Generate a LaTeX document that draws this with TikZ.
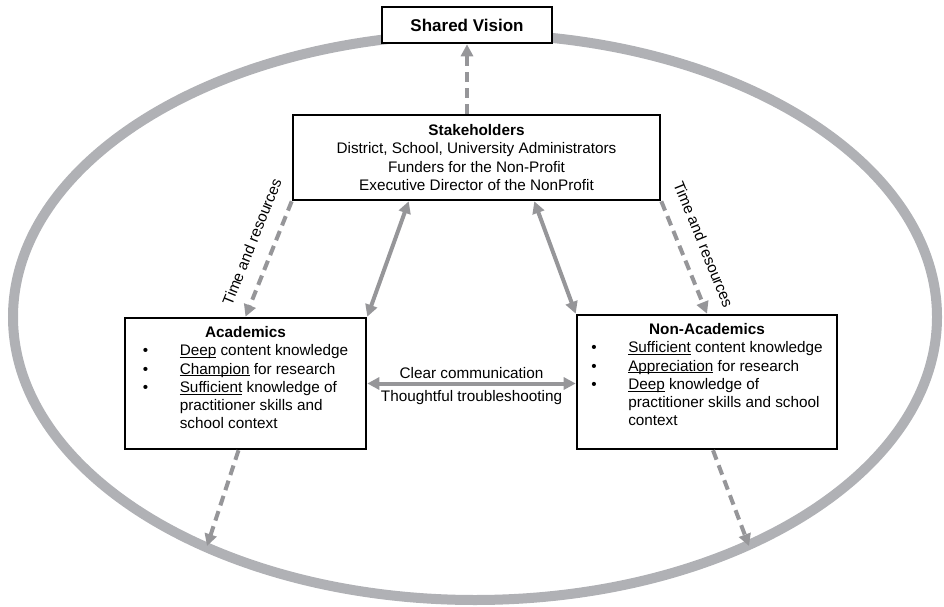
\documentclass[tikz,border=0pt]{standalone}
\usepackage{fontspec}
\setmainfont{Liberation Sans}
\usetikzlibrary{arrows.meta}
\definecolor{ringgray}{RGB}{176,177,181}
\definecolor{linkgray}{RGB}{150,150,153}
\newcommand{\bpt}{\textbullet}
\newcommand{\ulword}[1]{\setbox0\hbox{#1}\rlap{\rule[-2.2pt]{\wd0}{1pt}}\box0\relax}

\begin{document}
\begin{tikzpicture}[x=1pt, y=-1pt, font=\fontsize{15.3}{18.3}\selectfont,
    >={Triangle[length=12pt, width=12pt]},
    box/.style={draw=black, line width=2.6pt, fill=white, inner sep=0pt},
    link/.style={draw=linkgray, line width=4pt},
    dlink/.style={link, dash pattern=on 10pt off 6pt}]
  \useasboundingbox (0,0) rectangle (944,607);
  \draw[ringgray, line width=10pt] (475,317) ellipse [x radius=462, y radius=283];

  \node[box, minimum width=170, minimum height=36,
        font=\bfseries\fontsize{17}{20}\selectfont] (vision) at (467,25) {Shared Vision};
  \node[box, minimum width=367, minimum height=85, align=center] (stake) at (476.5,157.5)
    {\textbf{Stakeholders}\\District, School, University Administrators\\
     Funders for the Non-Profit\\Executive Director of the NonProfit};
  \node[box, minimum width=241, minimum height=131] (acad) at (245.5,383.5)
    {\begin{tabular}{@{}p{37pt}@{}l@{}}
      \multicolumn{2}{c}{\textbf{Academics}}\\
      \bpt & \ulword{Deep} content knowledge\\
      \bpt & \ulword{Champion} for research\\
      \bpt & \ulword{Sufficient} knowledge of\\
           & practitioner skills and\\
           & school context\\[8pt]
     \end{tabular}};
  \node[box, minimum width=260, minimum height=134] (nonacad) at (707,382)
    {\begin{tabular}{@{}p{37pt}@{}l@{}}
      \multicolumn{2}{c}{\textbf{Non-Academics}}\\
      \bpt & \ulword{Sufficient} content knowledge\\
      \bpt & \ulword{Appreciation} for research\\
      \bpt & \ulword{Deep} knowledge of\\
           & practitioner skills and school\\
           & context\\[11pt]
     \end{tabular}};

  % free ends on the ring
  \coordinate (lfoot) at (207,546);
  \coordinate (rfoot) at (749,546);

  \draw[dlink, ->] (vision.south |- stake.north) -- (vision.south);
  \draw[dlink, ->] (stake.south west) --
    node[sloped, above=11pt, pos=0.42] {Time and resources} (acad.north);
  \draw[dlink, ->] (stake.south east) --
    node[sloped, above=12pt, pos=0.46] {Time and resources} (nonacad.north);
  \draw[link, <->] (acad.north east) -- ([xshift=117pt]stake.south west);
  \draw[link, <->] (nonacad.north west) -- ([xshift=-127pt]stake.south east);
  \draw[link, <->] (acad.east) --
    node[above] {Clear communication}
    node[below=2pt] {Thoughtful troubleshooting} (acad.east -| nonacad.west);
  \draw[dlink, ->] ([xshift=-7pt]acad.south) -- (lfoot);
  \draw[dlink, ->] ([xshift=6pt]nonacad.south) -- (rfoot);
\end{tikzpicture}
\end{document}
